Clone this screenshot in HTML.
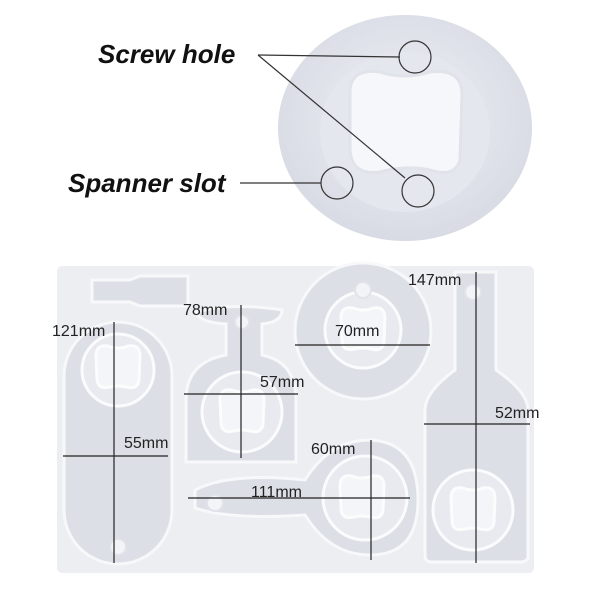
<!DOCTYPE html>
<html><head><style>
body{margin:0;background:#fff;width:600px;height:600px;overflow:hidden}
svg{display:block}
.l{font-family:"Liberation Sans",sans-serif;font-size:16px;fill:#222}
.b{font-family:"Liberation Sans",sans-serif;font-size:26px;font-weight:bold;font-style:italic;fill:#111}
</style></head><body>
<svg width="600" height="600" viewBox="0 0 600 600">
<defs>
<radialGradient id="og" cx="50%" cy="45%" r="60%"><stop offset="0" stop-color="#eef0f5"/><stop offset="1" stop-color="#d6d9e2"/></radialGradient>
<g id="ap"><path d="M-22 -12 Q-22 -24 -10 -22 Q0 -18 10 -22 Q22 -24 22 -12 L21 12 Q20 22 8 19 Q0 17 -8 19 Q-21 22 -21 10 Z" fill="#f4f5f8" stroke="#fcfcfd" stroke-width="3"/></g>
</defs>
<ellipse cx="405" cy="128" rx="127" ry="113" fill="url(#og)"/>
<ellipse cx="405" cy="132" rx="85" ry="80" fill="#e4e7ee"/>
<path d="M350 90 Q352 68 380 72 Q405 80 430 72 Q462 68 462 95 L460 160 Q455 178 430 170 Q405 165 380 172 Q352 176 350 150 Z" fill="#f6f7fa" stroke="#e0e3ea" stroke-width="3"/>
<line x1="258" y1="55" x2="400" y2="57" stroke="#333" stroke-width="1.2"/>
<line x1="258" y1="55" x2="405" y2="178" stroke="#333" stroke-width="1.2"/>
<line x1="240" y1="183" x2="321" y2="183" stroke="#333" stroke-width="1.2"/>
<circle cx="415" cy="57" r="16" fill="none" stroke="#333" stroke-width="1.2"/>
<circle cx="337" cy="183" r="16" fill="none" stroke="#333" stroke-width="1.2"/>
<circle cx="418" cy="191" r="16" fill="none" stroke="#333" stroke-width="1.2"/>
<text class="b" x="98" y="63">Screw hole</text>
<text class="b" x="68" y="192">Spanner slot</text>
<rect x="57" y="266" width="477" height="307" rx="5" fill="#eceef2"/>
<g fill="#dcdfe6" stroke="#f7f8fa" stroke-width="3">
<path d="M92 280 L130 280 L140 276 L188 276 L188 306 L140 306 L130 302 L92 302 Z"/>
<rect x="64" y="322" width="108" height="242" rx="54"/>
<path d="M197 312 Q230 302 282 310 Q282 322 262 324 L262 355 Q296 362 296 400 L296 462 L186 462 L186 400 Q186 362 226 355 L226 324 Q198 322 197 312 Z"/>
<circle cx="363" cy="331" r="68"/>
<path d="M455 272 L496 272 L496 370 Q528 392 528 410 L528 556 Q528 562 520 562 L432 562 Q425 562 425 556 L425 410 Q425 392 455 370 Z"/>
<path d="M195 490 Q230 472 305 480 Q330 440 370 440 Q418 442 418 500 Q418 555 370 555 Q330 555 305 515 Q230 520 195 508 Z"/>
</g>
<g fill="#e8eaef" stroke="#fafbfc" stroke-width="3">
<circle cx="118" cy="370" r="36"/><circle cx="242" cy="412" r="40"/><circle cx="363" cy="330" r="38"/><circle cx="473" cy="510" r="40"/><circle cx="365" cy="498" r="42"/>
</g>
<use href="#ap" x="118" y="368"/><use href="#ap" x="242" y="412"/><use href="#ap" x="363" y="330"/><use href="#ap" x="473" y="510"/><use href="#ap" x="362" y="498"/>
<g fill="#f3f4f7" stroke="#e0e3ea" stroke-width="2">
<circle cx="118" cy="547" r="8"/><circle cx="363" cy="290" r="8"/><circle cx="473" cy="292" r="8"/><circle cx="215" cy="503" r="8"/><circle cx="242" cy="322" r="7"/>
</g>
<g stroke="#222" stroke-width="1.2">
<line x1="114" y1="322" x2="114" y2="563"/><line x1="63" y1="456" x2="168" y2="456"/>
<line x1="241" y1="305" x2="241" y2="458"/><line x1="184" y1="394" x2="298" y2="394"/>
<line x1="295" y1="345" x2="430" y2="345"/>
<line x1="476" y1="272" x2="476" y2="563"/><line x1="424" y1="424" x2="530" y2="424"/>
<line x1="371" y1="440" x2="371" y2="560"/><line x1="188" y1="498" x2="410" y2="498"/>
</g>
<g class="l">
<text x="52" y="336">121mm</text><text x="183" y="315">78mm</text><text x="335" y="336">70mm</text>
<text x="408" y="285">147mm</text><text x="260" y="387">57mm</text><text x="495" y="418">52mm</text>
<text x="124" y="448">55mm</text><text x="311" y="454">60mm</text><text x="251" y="497">111mm</text>
</g>
</svg>
</body></html>
